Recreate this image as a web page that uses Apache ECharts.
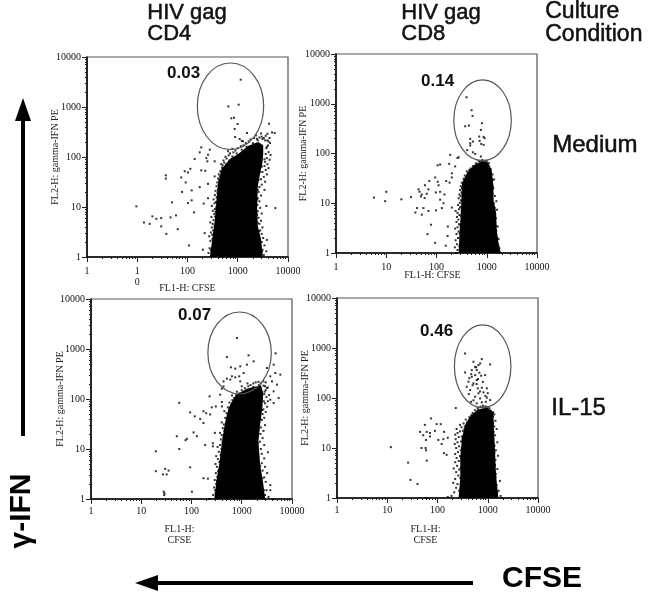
<!DOCTYPE html>
<html>
<head>
<meta charset="utf-8">
<style>
html, body { margin: 0; padding: 0; background: #fff; }
#chart { width: 661px; height: 592px; }
</style>
<script src="https://cdn.jsdelivr.net/npm/echarts@6/dist/echarts.min.js"></script>
</head>
<body>
<div id="chart"></div>
<script>
// gate extents: [FL1 low, FL2 low, FL1 high, FL2 high]
const gateCd4Medium = [[157, 140, 3280, 7586]]
const gateCd8Medium = [[221, 72, 3080, 3010]]
const gateCd4Il15 = [[212, 126, 3870, 5500]]
const gateCd8Il15 = [[217, 64, 2890, 2897]]

// solid part of each population, outline
const coreCd4Medium = [[298, 1], [332, 2.2], [375, 5.6], [405, 14], [437, 30], [509, 56], [745, 88], [1092, 111], [1726, 160], [2500, 185], [3000, 165], [3000, 115], [2900, 76], [2600, 48], [2342, 26], [2273, 10.3], [2342, 4.1], [2729, 2.2], [2945, 1]]
const coreCd8Medium = [[296, 1], [305, 2.2], [320, 4.7], [335, 11.8], [345, 25], [434, 40], [590, 55], [801, 66], [1008, 62], [1174, 44], [1268, 22], [1268, 11.8], [1433, 6.4], [1477, 2.9], [1594, 1.6], [1776, 1]]
const coreCd4Il15 = [[305, 1], [335, 2.3], [390, 5.7], [434, 14], [506, 36], [590, 66], [801, 113], [1268, 150], [2300, 175], [2500, 130], [2400, 66], [2166, 31], [2005, 14], [2166, 4.9], [2523, 1.9], [2724, 1]]
const coreCd8Il15 = [[281, 1], [304, 2.5], [304, 6.3], [328, 15.7], [382, 29], [481, 42], [653, 55], [959, 60], [1208, 49], [1245, 21], [1303, 8.5], [1365, 2.9], [1517, 1]]

// single events outside the solid part
const eventsCd4Medium = [[1143, 3520], [650, 1030], [1043, 1113], [745, 593], [842, 612], [996, 457], [868, 363], [1528, 302], [4187, 464], [5430, 302], [887, 251], [1092, 229], [1270, 206],
  [9.6, 10.3], [13.6, 4.9], [17.7, 4.6], [20, 6.5], [24, 5.8], [30, 6], [30, 4.1], [38, 2.9], [46, 6.2], [49, 12.4], [59, 6.8], [64, 3.6], [107, 1.7], [135, 7.8], [102, 12], [121, 13.6], [78, 20], [121, 21.5], [175, 25], [210, 11.7], [75, 39], [37, 43], [37, 37], [92, 31], [102, 49], [88, 52], [114, 58], [139, 91], [175, 124], [188, 156], [256, 111], [237, 95], [248, 82], [188, 54], [226, 53], [347, 82], [277, 140], [256, 29], [347, 41], [256, 15], [220, 3], [203, 1.4], [5600, 9.5],
  [262, 1.2], [275, 1.5], [285, 2.1], [270, 2.6], [300, 1.3], [292, 3.1], [310, 2.8], [305, 3.9], [318, 4.6], [285, 4.9], [330, 5.5], [300, 6.3], [340, 7.2], [320, 8.4], [352, 9.1], [305, 10.5], [345, 11.8], [368, 12.6], [330, 14.2], [380, 15.5], [350, 17.3], [395, 19], [362, 21], [405, 23], [378, 26], [415, 28], [392, 31], [425, 34], [405, 37], [440, 41], [420, 45], [470, 49], [450, 52], [485, 61], [500, 68], [470, 72], [540, 77], [520, 85], [600, 93], [570, 101], [660, 108], [700, 118], [640, 130], [820, 124], [900, 135], [780, 146], [1000, 150], [1150, 165], [1300, 172], [1450, 190], [1200, 210], [1650, 205], [1800, 225], [2100, 240], [2400, 230], [2700, 245], [3000, 255], [3300, 240], [3600, 265], [3900, 290], [4300, 240], [3500, 215], [4100, 205], [2300, 270], [2900, 295], [4800, 310],
  [3300, 1.1], [3100, 1.4], [3700, 1.3], [3400, 1.7], [3800, 2.2], [3200, 2.4], [3000, 2.9], [2800, 3.4], [3100, 3.9], [2700, 4.6], [2900, 5.3], [2600, 6.1], [3000, 7.4], [2500, 8.2], [2800, 9.6], [3700, 10.5], [2450, 11], [2700, 13], [2500, 15], [2900, 17], [2600, 20], [3400, 22], [2700, 25], [3000, 28], [3500, 32], [2900, 36], [3300, 40], [3800, 45], [3100, 50], [3600, 55], [4100, 60], [3400, 66], [3900, 72], [3500, 80], [4300, 88], [3800, 95], [4500, 110], [4100, 125], [3700, 150], [4000, 170], [4400, 190],
  [290, 1.4], [315, 2.3], [325, 3.4], [345, 4.2], [355, 6.4], [362, 8], [375, 10], [385, 12.5], [395, 16], [410, 21], [425, 26], [440, 33], [470, 40], [490, 46], [530, 60], [600, 72], [680, 85], [780, 102], [950, 118], [1200, 140], [1500, 160], [2000, 190], [2500, 215], [3100, 228], [3900, 215], [3800, 160], [3600, 115], [3400, 90], [3000, 64], [2800, 50], [2600, 35], [2500, 22], [2420, 14], [2430, 7], [2500, 4.8], [2650, 3.3], [3000, 2], [3050, 1.3]]

const eventsCd8Medium = [[396, 1350], [499, 741], [522, 570], [372, 353], [441, 365], [801, 406], [765, 298], [709, 219], [865, 216], [905, 203], [469, 197], [469, 161], [530, 174], [720, 179], [777, 156], [865, 149], [469, 145], [408, 117], [530, 106], [590, 98], [765, 87],
  [275, 84], [187, 94], [262, 81], [179, 62], [235, 55], [118, 60], [105, 58], [202, 40], [202, 33], [156, 28], [182, 26], [94, 33], [106, 27], [110, 23], [72, 28], [59, 23], [44, 19], [46, 17], [51, 15], [69, 19], [64, 15.5], [97, 16.5], [118, 17], [144, 15], [118, 11.8], [138, 10], [202, 8.2], [128, 8], [98, 7.2], [69, 7], [51, 5.9], [41, 8], [38, 6.5], [55, 8], [58, 12.7], [49, 13.7], [31, 13.3], [20, 12], [9.5, 11], [10, 17], [5.7, 13], [78, 3.7], [66, 2.4], [94, 1.6], [166, 2.2], [153, 1.4], [168, 3.4],
  [245, 1], [262, 1.15], [232, 1.3], [255, 1.5], [240, 1.8], [268, 2], [250, 2.4], [275, 2.7], [235, 3.1], [262, 3.3], [280, 3.8], [250, 4.2], [272, 4.7], [255, 5.3], [285, 5.8], [262, 6.4], [240, 7], [280, 7.6], [295, 8.4], [268, 9.2], [290, 10.2], [305, 11.5], [275, 12.6], [300, 13.8], [285, 15], [315, 16.5], [295, 18.5], [320, 20], [305, 22], [340, 24], [320, 26], [360, 28], [345, 31], [385, 33], [365, 36], [420, 40], [400, 44], [450, 47], [480, 50], [530, 56], [620, 64], [700, 70], [820, 74], [900, 70], [1000, 68], [1100, 64], [1120, 55], [1050, 50], [1200, 48], [1150, 42], [1300, 38], [1220, 33], [1280, 28], [1400, 30], [1250, 24], [1350, 20], [1280, 17], [1450, 14], [1300, 12.5], [1550, 11], [1350, 9.8], [1400, 8.2], [1600, 7.4], [1450, 6.3], [1500, 5], [1420, 4], [1650, 3.4], [1550, 2.8], [1500, 2.2], [1720, 1.9], [1620, 1.5], [1780, 1.25], [1680, 1.1], [1900, 1],
  [285, 1.4], [290, 2.5], [298, 3.6], [305, 5.6], [315, 8], [322, 11], [328, 15], [335, 21], [355, 27], [390, 31], [430, 37], [500, 46], [600, 60], [750, 66], [900, 64], [1050, 57], [1170, 49], [1210, 38], [1290, 30], [1300, 22], [1310, 15], [1370, 10], [1440, 8], [1490, 5], [1520, 3.5], [1620, 2], [1700, 1.4]]

const eventsCd4Il15 = [[801, 1660], [1368, 747], [4720, 819], [506, 692], [1721, 566], [608, 430], [933, 450], [742, 405], [1268, 486], [1088, 331], [891, 284], [742, 271], [637, 284], [506, 255], [434, 225], [590, 244], [933, 225], [434, 179], [402, 161],
  [3175, 417], [4313, 486], [4656, 331], [5848, 307], [3992, 225], [3698, 284], [5023, 194], [4313, 142], [5420, 105], [3698, 97], [4313, 83], [3175, 166],
  [57, 84], [94, 54], [173, 57], [196, 52], [235, 49], [254, 68], [229, 113], [372, 122], [402, 87], [402, 71], [305, 71], [149, 40], [173, 33], [116, 45], [110, 21.5], [128, 18], [81, 16], [76, 15], [51, 18], [57, 10], [19.5, 9], [19.5, 3.6], [30, 4], [35, 3.7], [27, 3.1], [32, 3.1], [28, 1.4], [29, 1.3], [28.5, 1.2], [102, 1.4], [94, 4.3], [173, 2.6], [212, 2.55], [187, 12], [266, 13], [266, 11.3], [292, 21], [4313, 1], [3698, 1.5],
  [225, 1], [270, 1.2], [300, 1.3], [280, 1.7], [310, 2], [290, 2.4], [325, 2.8], [305, 3.3], [345, 3.7], [320, 4.4], [300, 5], [360, 5.5], [335, 6.3], [310, 7.2], [380, 7.6], [350, 8.8], [395, 10], [330, 11], [370, 12], [415, 13.5], [385, 15.5], [430, 17], [400, 19], [370, 21], [450, 23], [420, 26], [480, 28], [440, 31], [400, 34], [510, 38], [470, 42], [540, 46], [500, 52], [450, 57], [570, 60], [530, 68], [610, 75], [570, 85], [650, 95], [700, 105], [640, 118], [780, 120], [900, 130], [800, 140], [1000, 150], [1150, 165], [1000, 180], [1350, 180], [1500, 190], [1300, 205], [1700, 205], [1900, 215], [2150, 220], [2400, 205], [2700, 225], [3000, 215], [2900, 180], [3300, 170], [3000, 150], [3500, 120], [3100, 110], [2800, 125], [3300, 90], [2900, 82], [3200, 70], [2700, 62], [3000, 55], [2600, 50], [2800, 42], [2500, 38], [2900, 30], [2400, 27], [2700, 23], [2350, 20], [2600, 16.5], [2300, 14], [2800, 12], [2400, 10], [3300, 8.6], [2500, 8], [2800, 6.5], [2500, 5.2], [2900, 4.4], [2600, 3.7], [3200, 3.3], [2800, 2.7], [3000, 2.2], [3700, 1.9], [3100, 1.5], [2900, 1.2], [3400, 1.1],
  [295, 1.5], [322, 2.3], [340, 3.6], [370, 5.7], [395, 8.5], [420, 12], [445, 19], [470, 26], [495, 33], [530, 50], [580, 62], [640, 82], [760, 105], [950, 125], [1250, 148], [1700, 175], [2200, 190], [2700, 185], [2850, 140], [2750, 90], [2550, 60], [2350, 40], [2150, 24], [2080, 13], [2150, 7], [2320, 4.6], [2580, 2.6], [2750, 1.5]]

const eventsCd8Il15 = [[354, 777], [762, 599], [519, 530], [653, 455], [1117, 469], [706, 491], [354, 325], [481, 361], [605, 361], [561, 287], [481, 266], [739, 279], [888, 287], [605, 229], [413, 212], [519, 196], [382, 168], [446, 144], [634, 156], [762, 161], [959, 156], [653, 124], [822, 130], [561, 106], [706, 98], [959, 102], [467, 84], [605, 78], [762, 82], [916, 84], [1117, 91], [231, 63], [430, 250], [590, 410], [500, 180], [680, 320], [420, 120], [800, 210], [560, 420], [470, 300], [640, 240], [900, 110], [520, 90], [700, 135], [600, 190], [1000, 125],
  [74, 39], [96, 30], [116, 30], [56, 29], [61, 21], [45, 21], [71, 20], [52, 18], [59, 14.5], [71, 17], [89, 22], [135, 21], [104, 14.5], [131, 15], [160, 16], [121, 12], [48, 10], [58, 10], [59, 9], [61, 5.6], [11.8, 10.4], [26, 5.1], [29, 2.3], [40, 1.9], [61, 1], [135, 7.9], [152, 7.3],
  [190, 1.1], [160, 1.05], [215, 1.3], [235, 1.6], [205, 2], [250, 1.9], [225, 2.4], [260, 2.8], [235, 3.3], [210, 3.9], [270, 3.7], [245, 4.4], [225, 5.2], [265, 5.5], [240, 6.3], [280, 6.9], [225, 7.6], [255, 8.3], [290, 9], [235, 10], [270, 10.8], [220, 12], [250, 13], [295, 13.5], [230, 15], [265, 16.5], [305, 17], [225, 18.5], [250, 20], [280, 21.5], [320, 22], [240, 24], [300, 26], [350, 27], [280, 29], [330, 31], [400, 33], [365, 37], [430, 41], [470, 45], [500, 50], [560, 57], [630, 63], [720, 67], [800, 70], [900, 68], [1000, 66], [1080, 62], [1150, 55], [1280, 52], [1350, 47], [1280, 43], [1220, 38], [1420, 35], [1280, 31], [1350, 27], [1500, 24], [1300, 21], [1400, 18], [1300, 15], [1550, 13], [1360, 11], [1450, 9], [1350, 8], [1600, 7], [1420, 5.8], [1380, 4.6], [1550, 3.8], [1450, 3], [1750, 2.2], [1500, 1.8], [1650, 1.4], [1800, 1.1], [1950, 1],
  [270, 1.4], [285, 2.5], [290, 4], [295, 6.3], [305, 10], [315, 15], [345, 24], [385, 32], [450, 40], [540, 48], [650, 58], [800, 64], [950, 64], [1120, 56], [1250, 50], [1270, 32], [1290, 21], [1320, 12], [1350, 8.5], [1390, 4.5], [1430, 2.6], [1540, 1.3]]

const xNames = ['FL1-H: CFSE', 'FL1-H: CFSE', 'FL1-H:\nCFSE', 'FL1-H:\nCFSE']
const yNames = ['FL2-H: gamma-IFN PE', 'FL2-H: gamma-IFN PE', 'FL2-H: gamma-IFN PE', 'FL2-H: gamma-IFN PE']
const percentLabels = ['0.03', '0.14', '0.07', '0.46']

const panels = [
  { grid: { left: 87, top: 57, width: 201, height: 200 }, gate: gateCd4Medium, core: coreCd4Medium, events: eventsCd4Medium, namePad: 0, nameGap: 26, yGap: 27, tickMargin: 9, pct: [167, 74], splitTen: true },
  { grid: { left: 336, top: 54, width: 201, height: 199 }, gate: gateCd8Medium, core: coreCd8Medium, events: eventsCd8Medium, namePad: 8, nameGap: 17, yGap: 28, tickMargin: 9, pct: [421, 82] },
  { grid: { left: 91, top: 299, width: 201, height: 200 }, gate: gateCd4Il15, core: coreCd4Il15, events: eventsCd4Il15, namePad: 24, nameGap: 25, yGap: 26, tickMargin: 7, pct: [178, 316] },
  { grid: { left: 337, top: 298, width: 201, height: 200 }, gate: gateCd8Il15, core: coreCd8Il15, events: eventsCd8Il15, namePad: 24, nameGap: 26, yGap: 27, tickMargin: 7, pct: [420, 332] }
]

const serif = '"Liberation Serif", serif'
const sans = '"Liberation Sans", Arial, sans-serif'

function logAxis(extra) {
  return Object.assign({
    type: 'log',
    logBase: 10,
    min: 1,
    max: 10000,
    axisLine: { show: true, onZero: false, lineStyle: { color: '#000', width: 1.5 } },
    axisTick: { show: true, length: 5, lineStyle: { color: '#222' } },
    minorTick: { show: true, splitNumber: 9, length: 2, lineStyle: { color: '#222' } },
    splitLine: { show: false },
    minorSplitLine: { show: false },
    nameLocation: 'middle',
    nameMoveOverlap: false
  }, extra)
}

function renderGate(params, api) {
  const a = api.coord([api.value(0), api.value(1)])
  const b = api.coord([api.value(2), api.value(3)])
  return {
    type: 'ellipse',
    shape: { cx: (a[0] + b[0]) / 2, cy: (a[1] + b[1]) / 2, rx: Math.abs(b[0] - a[0]) / 2, ry: Math.abs(b[1] - a[1]) / 2 },
    style: { fill: 'none', stroke: '#555', lineWidth: 1.2 }
  }
}

function renderCore(outline) {
  return function (params, api) {
    if (params.dataIndex !== 0) return null
    return {
      type: 'polygon',
      shape: { points: outline.map(p => api.coord(p)) },
      style: { fill: '#000', stroke: '#000', lineWidth: 3, lineJoin: 'round' }
    }
  }
}

const grids = []
const xAxes = []
const yAxes = []
const series = []
const labels = []

panels.forEach((p, i) => {
  grids.push(Object.assign({ show: true, borderColor: '#555', borderWidth: 1.2, backgroundColor: '#fff' }, p.grid))
  xAxes.push(logAxis({
    gridIndex: i,
    name: xNames[i],
    nameGap: p.nameGap,
    nameTextStyle: { fontFamily: serif, fontSize: 10, color: '#222', lineHeight: 11, padding: [0, p.namePad, 0, 0] },
    axisLabel: {
      fontFamily: serif, fontSize: 10, color: '#111', margin: p.tickMargin, lineHeight: 11,
      formatter: v => (p.splitTen && Math.round(v) === 10 ? '1\n0' : String(Math.round(v)))
    }
  }))
  yAxes.push(logAxis({
    gridIndex: i,
    name: yNames[i],
    nameGap: p.yGap,
    nameTextStyle: { fontFamily: serif, fontSize: 10, color: '#222' },
    axisLabel: { fontFamily: serif, fontSize: 10, color: '#111', margin: 6, formatter: v => String(Math.round(v)) }
  }))
  series.push({
    type: 'custom',
    xAxisIndex: i,
    yAxisIndex: i,
    clip: true,
    silent: true,
    data: p.core,
    encode: { x: 0, y: 1 },
    renderItem: renderCore(p.core),
    z: 3
  })
  series.push({
    type: 'scatter',
    xAxisIndex: i,
    yAxisIndex: i,
    silent: true,
    symbol: 'rect',
    symbolSize: 2,
    itemStyle: { color: '#000' },
    data: p.events,
    z: 4
  })
  series.push({
    type: 'custom',
    xAxisIndex: i,
    yAxisIndex: i,
    silent: true,
    data: p.gate,
    encode: { x: [0, 2], y: [1, 3] },
    renderItem: renderGate,
    z: 5
  })
  labels.push({
    type: 'text', left: p.pct[0], top: p.pct[1] - 9, z: 10,
    style: { text: percentLabels[i], font: 'bold 17px ' + sans, fill: '#111' }
  })
})

function heading(x, y, text, size) {
  return { type: 'text', left: x, top: y, style: { text: text, font: size + 'px ' + sans, fill: '#111', stroke: '#111', lineWidth: 0.5 } }
}

const annotations = [
  heading(147, 2, 'HIV gag', 22),
  heading(147, 23, 'CD4', 22),
  heading(401, 2, 'HIV gag', 22),
  heading(401, 23, 'CD8', 22),
  heading(545, 0, 'Culture', 23),
  heading(545, 23, 'Condition', 23),
  heading(552, 133, 'Medium', 24),
  heading(551, 396, 'IL-15', 24),
  { type: 'text', left: 502, top: 564, style: { text: 'CFSE', font: 'bold 30px ' + sans, fill: '#000' } },
  { type: 'text', x: 22, y: 511, rotation: Math.PI / 2, style: { text: 'γ-IFN', font: 'bold 30px ' + sans, fill: '#000', align: 'center', verticalAlign: 'middle' } },
  // vertical arrow
  { type: 'rect', shape: { x: 21, y: 118, width: 4, height: 318 }, style: { fill: '#000' } },
  { type: 'polygon', shape: { points: [[23, 98], [15, 121], [31, 121]] }, style: { fill: '#000' } },
  // horizontal arrow
  { type: 'rect', shape: { x: 155, y: 581, width: 318, height: 4 }, style: { fill: '#000' } },
  { type: 'polygon', shape: { points: [[135, 583], [158, 575], [158, 591]] }, style: { fill: '#000' } }
]

const chart = echarts.init(document.getElementById('chart'), null, { renderer: 'canvas' })
chart.setOption({
  animation: false,
  backgroundColor: '#fff',
  grid: grids,
  xAxis: xAxes,
  yAxis: yAxes,
  series: series,
  graphic: annotations.concat(labels)
})
</script>
</body>
</html>
